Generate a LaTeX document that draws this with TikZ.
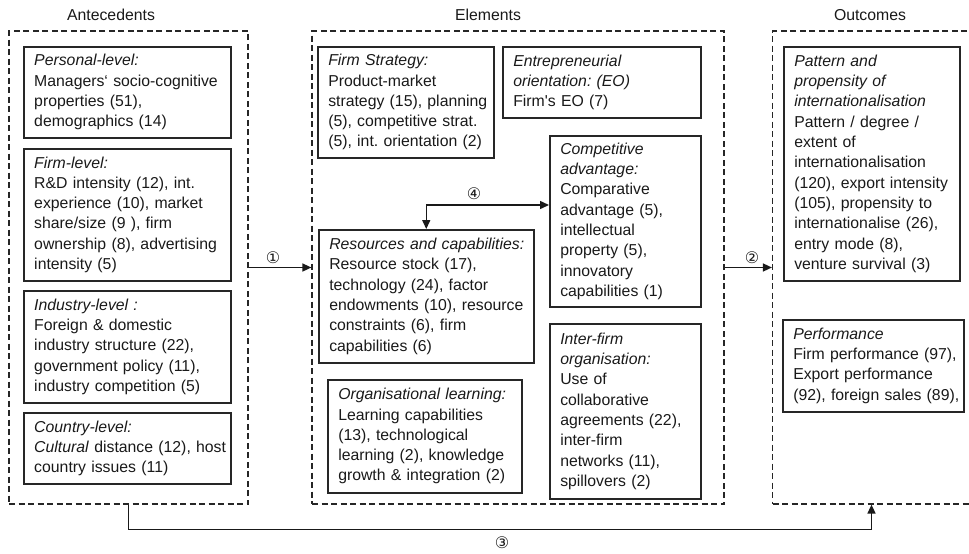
\documentclass[tikz,border=0pt]{standalone}
\usepackage{fontspec}
\setmainfont{Liberation Sans}[Ligatures=TeXOff]
\newfontfamily\symfont{DejaVu Sans}
\usetikzlibrary{arrows.meta}
\frenchspacing
\newcommand\boxlines[1]{\begin{tabular}{@{}l@{}}#1\end{tabular}}
\begin{document}
\begin{tikzpicture}[x=1pt,y=-1pt,
  every node/.style={font=\fontsize{15.8}{20.3}\selectfont\frenchspacing, text=black!90},
  box/.style={draw=black!85, line width=1.5pt, rectangle, anchor=north west, align=left, inner xsep=10.5pt, inner ysep=2pt},
  group/.style={draw=black!85, line width=1.2pt, dash pattern=on 6pt off 3.5pt, rectangle, inner sep=0pt},
  title/.style={inner sep=0pt},
  num/.style={font=\symfont\fontsize{16}{18}\selectfont, inner sep=0pt},
  arr/.style={draw=black!90, line width=1.5pt, -{Triangle[length=9pt,width=8pt]}},
  darr/.style={draw=black!90, line width=1.5pt, {Triangle[length=9pt,width=8pt]}-{Triangle[length=9pt,width=8pt]}}
]
\useasboundingbox (0,0) rectangle (969,554);

% group boxes
\node[group, minimum width=239pt, minimum height=473pt] (ante) at (128.5,267.5) {};
\node[group, minimum width=412pt, minimum height=473pt] (elem) at (518,267.5) {};
\node[group, minimum width=198pt, minimum height=473pt] (outc) at (871.5,267.5) {};

% titles
\node[title] (tante) at (111,15) {Antecedents};
\node[title] (telem) at (488,15) {Elements};
\node[title] (toutc) at (870,15) {Outcomes};

% Antecedents
\node[box, minimum width=207pt, minimum height=91pt, text width=186pt] (pers) at (23,46)
 {\boxlines{\textit{Personal-level:}\\Managers‘ socio-cognitive\\properties (51),\\demographics (14)}};
\node[box, minimum width=207pt, minimum height=132pt, text width=186pt] (firm) at (23,148)
 {\boxlines{\textit{Firm-level:}\\R\&D intensity (12), int.\\experience (10), market\\share/size (9 ), firm\\ownership (8), advertising\\intensity (5)}};
\node[box, minimum width=207pt, minimum height=112pt, text width=186pt] (ind) at (23,290)
 {\boxlines{\textit{Industry-level :}\\Foreign \& domestic\\industry structure (22),\\government policy (11),\\industry competition (5)}};
\node[box, minimum width=207pt, minimum height=71pt, text width=186pt] (ctry) at (23,412)
 {\boxlines{\textit{Country-level:}\\\textit{Cultural} distance (12), host\\country issues (11)}};

% Elements
\node[box, minimum width=176pt, minimum height=111pt, text width=155pt] (strat) at (317,46)
 {\boxlines{\textit{Firm Strategy:}\\Product-market\\strategy (15), planning\\(5), competitive strat.\\(5), int. orientation (2)}};
\node[box, minimum width=198pt, minimum height=71pt, text width=177pt] (eo) at (502,46)
 {\boxlines{\textit{Entrepreneurial}\\\textit{orientation: (EO)}\\Firm's EO (7)}};
\node[box, minimum width=151pt, minimum height=171pt, text width=130pt] (comp) at (549,135)
 {\boxlines{\textit{Competitive}\\\textit{advantage:}\\Comparative\\advantage (5),\\intellectual\\property (5),\\innovatory\\capabilities (1)}};
\node[box, minimum width=215pt, minimum height=133pt, text width=194pt] (res) at (318,229)
 {\boxlines{\textit{Resources and capabilities:}\\Resource stock (17),\\technology (24), factor\\endowments (10), resource\\constraints (6), firm\\capabilities (6)}};
\node[box, minimum width=194pt, minimum height=113pt, text width=173pt] (learn) at (327,379)
 {\boxlines{\textit{Organisational learning:}\\Learning capabilities\\(13), technological\\learning (2), knowledge\\growth \& integration (2)}};
\node[box, minimum width=151pt, minimum height=175pt, text width=130pt] (inter) at (549,323)
 {\boxlines{\textit{Inter-firm}\\\textit{organisation:}\\Use of\\collaborative\\agreements (22),\\inter-firm\\networks (11),\\spillovers (2)}};

% Outcomes
\node[box, minimum width=176pt, minimum height=234pt, text width=155pt] (patt) at (783,46)
 {\boxlines{\textit{Pattern and}\\\textit{propensity of}\\\textit{internationalisation}\\Pattern / degree /\\extent of\\internationalisation\\(120), export intensity\\(105), propensity to\\internationalise (26),\\entry mode (8),\\venture survival (3)}};
\node[box, minimum width=181pt, minimum height=92pt, text width=160pt] (perf) at (782,319)
 {\boxlines{\textit{Performance}\\Firm performance (97),\\Export performance\\(92), foreign sales (89),}};

% connectors
\coordinate (a4) at (549,205);
\draw[arr] (ante.east) -- (elem.west);
\draw[arr] (elem.east) -- (outc.west);
\draw[arr] (ante.south) -- ++(0,25) -| (outc.south);
\draw[darr] (res.north) |- (a4);

% labels
\node[num] (n1) at (273,258) {①};
\node[num] (n2) at (752,258) {②};
\node[num] (n3) at (502,543) {③};
\node[num] (n4) at (474,194) {④};
\end{tikzpicture}
\end{document}
